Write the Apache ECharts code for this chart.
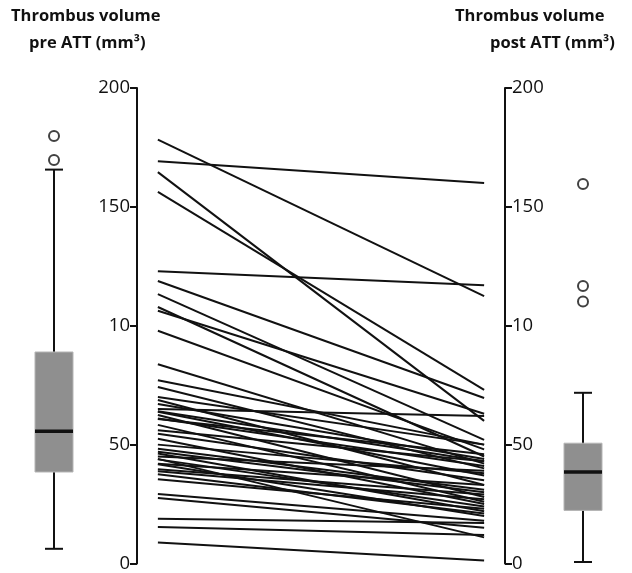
<!DOCTYPE html>
<html>
<head>
<meta charset="utf-8">
<script src="https://cdn.jsdelivr.net/npm/echarts@6/dist/echarts.min.js"></script>
<style>
  html, body { margin: 0; padding: 0; background: #fff; }
  #chart { width: 632px; height: 573px; }
</style>
</head>
<body>
<div id="chart"></div>
<script>
// --- Data ---
const preValues = [178.3, 169.2, 164.6, 156.3, 122.9, 118.8, 113.3, 107.9, 106.3, 97.9,
  83.8, 77.1, 74.2, 68.8, 67.1, 65, 63.8, 62.5, 60.8, 58.3,
  54.6, 52.5, 48.3, 46.3, 45, 43.8, 41.7, 39.6, 38.8, 37.5,
  35.4, 29.2, 27.5, 18.8, 15.4, 8.8, 56, 50, 44, 61,
  70, 64, 47, 42];
const postValues = [112.5, 160, 60, 73, 117, 69.6, 52, 45, 63, 48,
  42, 50, 40, 33, 44, 62, 37, 28, 46, 26,
  35, 25, 31, 22, 39, 24, 20, 29, 27, 21,
  23, 18, 15, 17, 12, 1.3, 43, 38, 11, 41,
  50, 43, 30, 33];

// min, q1, median, q3, max
const preBox = [8, 40, 57, 90, 166];
const postBox = [2.5, 24, 40, 52, 73];
const preOutliers = [170, 180];
const postOutliers = [111, 117.5, 160];

const yTickLabels = { 0: '0', 50: '50', 100: '10', 150: '150', 200: '200' };

const FONT = 'Open Sans';
const AXIS_TOP = 88;
const AXIS_H = 480;

// --- Helpers ---
function renderBox(params, api) {
  const x = api.value(0);
  const pMin = api.coord([x, api.value(1)]);
  const pQ1 = api.coord([x, api.value(2)]);
  const pMed = api.coord([x, api.value(3)]);
  const pQ3 = api.coord([x, api.value(4)]);
  const pMax = api.coord([x, api.value(5)]);
  const cx = pMin[0];
  const hw = 19, cap = 9;
  const stroke = { stroke: '#111', lineWidth: 2 };
  return {
    type: 'group',
    children: [
      { type: 'line', shape: { x1: cx, y1: pMax[1], x2: cx, y2: pMin[1] }, style: stroke },
      { type: 'line', shape: { x1: cx - cap, y1: pMax[1], x2: cx + cap, y2: pMax[1] }, style: stroke },
      { type: 'line', shape: { x1: cx - cap, y1: pMin[1], x2: cx + cap, y2: pMin[1] }, style: stroke },
      { type: 'rect', shape: { x: cx - hw, y: pQ3[1], width: hw * 2, height: pQ1[1] - pQ3[1] },
        style: { fill: '#8f8f8f', stroke: '#b5b5b5', lineWidth: 1 } },
      { type: 'line', shape: { x1: cx - hw, y1: pMed[1], x2: cx + hw, y2: pMed[1] },
        style: { stroke: '#111', lineWidth: 3.5 } },
    ],
  };
}

function valueAxis(gridIndex, position, visible) {
  return {
    type: 'value',
    gridIndex,
    position,
    min: 0,
    max: 200,
    interval: 50,
    show: visible,
    axisLine: { show: true, onZero: false, lineStyle: { color: '#111', width: 2 } },
    axisTick: { show: true, length: 7, lineStyle: { color: '#111', width: 2 } },
    axisLabel: {
      color: '#111',
      fontSize: 18.5,
      fontFamily: FONT,
      margin: 7,
      formatter: v => yTickLabels[v] ?? String(v),
    },
    splitLine: { show: false },
  };
}

// --- Series ---
const pairSeries = preValues.map((pre, i) => ({
  type: 'line',
  xAxisIndex: 0,
  yAxisIndex: 0,
  data: [[0, pre], [1, postValues[i]]],
  symbol: 'none',
  silent: true,
  lineStyle: { color: '#111', width: 2 },
  animation: false,
}));

const outlierStyle = {
  type: 'scatter',
  symbol: 'circle',
  symbolSize: 10,
  itemStyle: { color: '#fff', borderColor: '#111', borderWidth: 2 },
  animation: false,
};

const chart = echarts.init(document.getElementById('chart'), null, { renderer: 'canvas' });

const titleFont = `bold 16.5px "${FONT}"`;

chart.setOption({
  backgroundColor: '#fff',
  animation: false,
  grid: [
    { left: 137, top: AXIS_TOP, width: 368, height: AXIS_H },
    { left: 15, top: AXIS_TOP, width: 78, height: AXIS_H },
    { left: 544, top: AXIS_TOP, width: 78, height: AXIS_H },
  ],
  xAxis: [
    { type: 'value', gridIndex: 0, min: -0.064, max: 1.064, show: false },
    { type: 'category', gridIndex: 1, data: ['pre'], show: false },
    { type: 'category', gridIndex: 2, data: ['post'], show: false },
  ],
  yAxis: [
    valueAxis(0, 'left', true),
    valueAxis(0, 'right', true),
    valueAxis(1, 'left', false),
    valueAxis(2, 'left', false),
  ],
  graphic: [
    { type: 'text', left: 11, top: 8, style: { text: 'Thrombus volume', font: titleFont, fill: '#111' } },
    { type: 'text', left: 29, top: 35, style: { text: 'pre ATT (mm³)', font: titleFont, fill: '#111' } },
    { type: 'text', left: 455, top: 8, style: { text: 'Thrombus volume', font: titleFont, fill: '#111' } },
    { type: 'text', left: 490, top: 35, style: { text: 'post ATT (mm³)', font: titleFont, fill: '#111' } },
  ],
  series: [
    ...pairSeries,
    {
      type: 'custom',
      xAxisIndex: 1,
      yAxisIndex: 2,
      renderItem: renderBox,
      data: [[0, ...preBox]],
      animation: false,
    },
    {
      type: 'custom',
      xAxisIndex: 2,
      yAxisIndex: 3,
      renderItem: renderBox,
      data: [[0, ...postBox]],
      animation: false,
    },
    { ...outlierStyle, xAxisIndex: 1, yAxisIndex: 2, data: preOutliers.map(v => [0, v]) },
    { ...outlierStyle, xAxisIndex: 2, yAxisIndex: 3, data: postOutliers.map(v => [0, v]) },
  ],
});

window.addEventListener('resize', () => chart.resize());
</script>
</body>
</html>
